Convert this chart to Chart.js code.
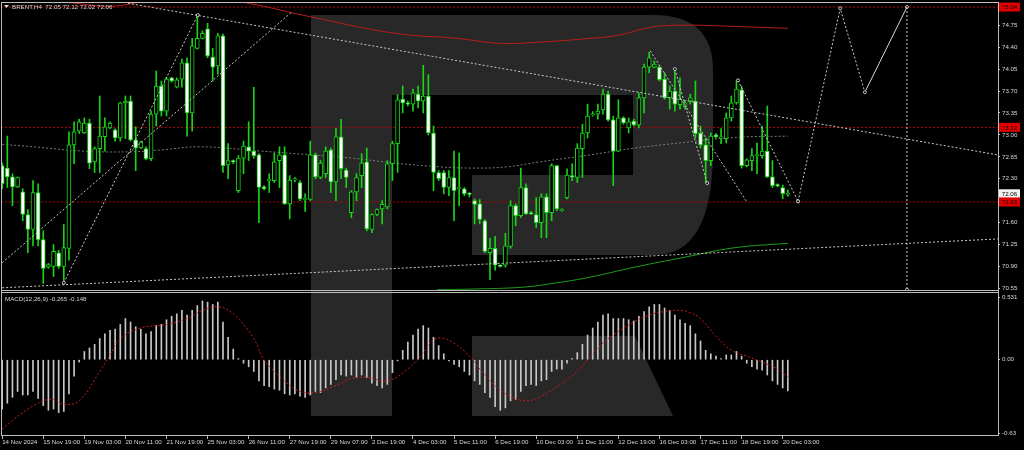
<!DOCTYPE html>
<html>
<head>
<meta charset="utf-8">
<title>BRENT H4</title>
<script src="https://cdn.jsdelivr.net/npm/chart.js@4.4.0/dist/chart.umd.min.js"></script>
<style>
    html, body { margin: 0; padding: 0; background: #000; }
    #wrap { width: 1024px; height: 450px; background: #000; }
    canvas { display: block; }
</style>
</head>
<body>
<div id="wrap"><canvas id="brentChart" width="1024" height="450"></canvas></div>
<script>
// BRENT, H4 candles, bar 0 = 14 Nov 2024
const candleOpen = [
    72.51, 72.47, 72.33, 72.17, 72.09, 71.73, 71.49, 72.08, 71.33, 70.89,
    70.90, 71.12, 70.90, 71.19, 72.84, 73.06, 73.03, 73.19, 72.57, 72.78,
    72.97, 73.11, 73.08, 72.95, 73.51, 73.54, 72.92, 72.79, 72.78, 72.62,
    73.33, 73.78, 73.38, 73.91, 73.76, 73.89, 74.15, 73.35, 74.38, 74.54,
    74.69, 74.24, 74.10, 74.58, 72.52, 72.59, 72.11, 72.63, 72.81, 72.74,
    72.68, 72.17, 72.27, 72.27, 72.59, 72.68, 71.90, 72.28, 72.24, 71.97,
    71.97, 72.68, 72.32, 72.38, 72.76, 72.25, 72.97, 72.44, 71.76, 72.09,
    72.35, 72.57, 71.49, 71.73, 71.82, 71.85, 72.54, 72.86, 73.57, 73.51,
    73.49, 73.65, 73.54, 73.62, 73.03, 72.40, 72.40, 72.16, 72.32, 72.14,
    72.14, 72.06, 71.95, 71.90, 71.63, 71.12, 71.19, 70.92, 70.92, 71.22,
    71.87, 71.71, 72.16, 71.76, 71.73, 71.60, 72.01, 71.76, 72.51, 71.79,
    72.00, 72.35, 72.32, 72.78, 73.03, 73.32, 73.33, 73.40, 73.65, 73.24,
    72.74, 73.27, 73.11, 73.22, 73.16, 73.59, 74.08, 74.08, 74.08, 73.89,
    73.59, 73.70, 73.48, 73.45, 73.54, 73.54, 73.03, 72.84, 72.59, 73.00,
    72.95, 72.94, 73.27, 73.51, 73.72, 72.51, 72.59, 72.67, 72.67, 72.74,
    72.33, 72.20, 72.16, 72.05
];
const candleHigh = [
    72.55, 72.98, 72.38, 72.33, 72.14, 71.81, 72.27, 72.22, 71.47, 70.95,
    71.25, 71.16, 71.57, 73.05, 73.21, 73.25, 73.27, 73.25, 72.81, 73.62,
    73.27, 73.21, 73.10, 73.52, 73.62, 73.62, 73.13, 72.90, 72.81, 73.38,
    74.02, 73.86, 73.92, 73.92, 73.91, 74.21, 74.23, 74.54, 74.89, 74.66,
    74.78, 74.38, 74.62, 74.61, 72.86, 72.60, 72.67, 72.90, 73.21, 73.76,
    72.70, 72.19, 72.38, 72.71, 72.81, 72.81, 72.35, 72.32, 72.27, 72.06,
    72.90, 72.71, 72.59, 72.81, 72.79, 73.10, 73.25, 72.47, 72.11, 72.38,
    72.70, 72.79, 71.74, 71.82, 71.95, 72.59, 72.90, 73.64, 73.78, 73.54,
    73.73, 73.78, 74.11, 73.96, 73.14, 72.43, 72.43, 72.43, 72.74, 72.71,
    72.16, 72.08, 71.98, 71.97, 71.65, 71.35, 71.38, 70.93, 71.43, 71.95,
    71.90, 72.47, 72.22, 71.78, 72.00, 72.06, 72.06, 72.54, 72.51, 71.82,
    72.46, 72.54, 72.86, 73.17, 73.49, 73.37, 73.49, 73.73, 73.70, 73.30,
    73.56, 73.29, 73.27, 73.25, 73.67, 74.13, 74.32, 74.18, 74.10, 73.99,
    73.78, 74.02, 73.91, 73.54, 73.65, 73.86, 73.14, 72.95, 73.03, 73.02,
    73.10, 73.35, 73.62, 73.86, 73.78, 72.62, 72.78, 72.87, 73.14, 73.46,
    72.59, 72.22, 72.20, 72.12
];
const candleLow = [
    72.14, 72.16, 71.87, 72.16, 71.63, 71.12, 71.23, 71.23, 70.63, 70.87,
    70.74, 70.87, 70.65, 71.00, 72.54, 73.02, 73.02, 72.46, 72.40, 72.40,
    72.74, 73.10, 72.90, 72.90, 72.94, 72.90, 72.43, 72.78, 72.60, 72.59,
    73.14, 73.30, 73.30, 73.84, 73.75, 73.76, 72.98, 73.06, 74.37, 74.53,
    74.23, 73.86, 73.97, 72.40, 72.30, 72.54, 72.08, 72.38, 72.59, 72.63,
    71.60, 72.12, 72.08, 72.24, 72.16, 71.89, 71.66, 72.25, 71.95, 71.78,
    71.95, 72.30, 72.30, 72.32, 72.08, 71.95, 72.30, 72.16, 71.68, 71.95,
    72.16, 71.47, 71.44, 71.71, 71.58, 71.82, 72.27, 72.40, 73.35, 73.46,
    73.38, 73.43, 73.35, 73.00, 72.11, 72.27, 72.06, 72.03, 71.63, 71.87,
    72.03, 72.01, 71.58, 71.58, 71.12, 70.69, 70.84, 70.89, 70.89, 71.19,
    71.55, 71.68, 71.73, 71.73, 71.52, 71.36, 71.36, 71.63, 71.79, 71.78,
    71.98, 72.27, 72.24, 72.32, 72.95, 73.30, 73.25, 73.33, 73.22, 72.19,
    72.73, 73.17, 73.03, 73.14, 73.11, 73.35, 73.99, 74.07, 73.86, 73.57,
    73.41, 73.38, 73.41, 73.41, 73.49, 72.95, 72.79, 72.24, 72.51, 72.95,
    72.86, 72.87, 73.22, 73.49, 72.47, 72.49, 72.43, 72.38, 72.63, 72.32,
    72.16, 72.17, 71.98, 72.02
];
const candleClose = [
    72.22, 72.33, 72.17, 72.32, 71.73, 71.49, 72.08, 71.33, 70.87, 70.93,
    71.14, 70.90, 71.20, 72.84, 73.05, 73.21, 73.19, 72.55, 72.78, 72.98,
    73.13, 73.19, 72.95, 73.51, 73.54, 72.92, 72.79, 72.89, 72.62, 73.33,
    73.78, 73.38, 73.89, 73.86, 73.88, 74.15, 73.35, 74.42, 74.54, 74.62,
    74.26, 74.08, 74.58, 72.51, 72.59, 72.57, 72.63, 72.82, 72.74, 72.67,
    72.16, 72.14, 72.28, 72.57, 72.68, 71.90, 72.28, 72.30, 71.98, 71.98,
    72.68, 72.33, 72.55, 72.74, 72.25, 72.97, 72.46, 72.32, 72.09, 72.32,
    72.55, 71.50, 71.73, 71.81, 71.89, 72.54, 72.86, 73.56, 73.51, 73.49,
    73.67, 73.54, 73.62, 73.03, 72.40, 72.30, 72.16, 72.32, 72.11, 72.16,
    72.06, 72.05, 71.89, 71.65, 71.14, 71.19, 70.92, 70.90, 71.23, 71.87,
    71.71, 72.16, 71.74, 71.74, 71.60, 72.01, 71.76, 72.51, 71.82, 71.81,
    72.36, 72.33, 72.79, 73.03, 73.30, 73.33, 73.38, 73.65, 73.24, 72.74,
    73.27, 73.19, 73.21, 73.16, 73.59, 74.08, 74.23, 74.13, 73.88, 73.59,
    73.70, 73.49, 73.57, 73.51, 73.59, 73.02, 72.84, 72.59, 72.98, 72.97,
    72.97, 73.27, 73.51, 73.73, 72.51, 72.60, 72.67, 72.68, 72.74, 72.33,
    72.19, 72.19, 72.06, 72.06
];

// MACD(12,26,9) main line (histogram) per bar
const macdMain = [
    -0.42, -0.37, -0.32, -0.27, -0.30, -0.30, -0.27, -0.33, -0.39, -0.43,
    -0.42, -0.45, -0.44, -0.29, -0.14, -0.02, 0.07, 0.10, 0.13, 0.18,
    0.22, 0.25, 0.26, 0.30, 0.35, 0.32, 0.28, 0.26, 0.22, 0.24,
    0.29, 0.30, 0.34, 0.37, 0.39, 0.42, 0.38, 0.42, 0.46, 0.50,
    0.49, 0.47, 0.49, 0.32, 0.19, 0.09, 0.01, -0.03, -0.06, -0.10,
    -0.18, -0.22, -0.23, -0.25, -0.26, -0.29, -0.30, -0.29, -0.31, -0.32,
    -0.30, -0.27, -0.28, -0.24, -0.21, -0.17, -0.13, -0.14, -0.13, -0.15,
    -0.13, -0.15, -0.20, -0.22, -0.24, -0.21, -0.11, -0.01, 0.08, 0.15,
    0.21, 0.26, 0.29, 0.27, 0.19, 0.12, 0.05, -0.01, -0.04, -0.06,
    -0.10, -0.13, -0.18, -0.21, -0.28, -0.32, -0.40, -0.43, -0.41, -0.35,
    -0.34, -0.27, -0.22, -0.21, -0.22, -0.18, -0.17, -0.10, -0.08, -0.08,
    -0.03, 0.01, 0.06, 0.13, 0.21, 0.27, 0.32, 0.38, 0.39, 0.35,
    0.35, 0.35, 0.34, 0.33, 0.37, 0.41, 0.45, 0.47, 0.47, 0.44,
    0.42, 0.38, 0.34, 0.31, 0.29, 0.22, 0.16, 0.08, 0.05, 0.03,
    0.01, 0.04, 0.04, 0.07, 0.03, -0.03, -0.06, -0.08, -0.09, -0.13,
    -0.18, -0.21, -0.24, -0.265
];
// signal line, read at these bars
const signalIdx = [0, 4, 8, 10, 12, 15, 19, 21, 23, 27, 32, 36, 39, 42, 45, 49, 51, 55, 58, 61,
    65, 68, 71, 75, 79, 82, 84, 86, 88, 91, 94, 98, 102, 105, 109, 112, 116, 119, 123, 126,
    129, 132, 134, 136, 139, 142, 145, 148, 151, 153];
const signalVal = [-0.59, -0.45, -0.35, -0.34, -0.38, -0.35, -0.10, 0.04, 0.18, 0.27, 0.30, 0.35, 0.42, 0.45, 0.39, 0.18, 0.00, -0.18, -0.27, -0.28,
    -0.22, -0.16, -0.15, -0.18, -0.08, 0.06, 0.17, 0.18, 0.14, 0.03, -0.13, -0.29, -0.35, -0.31, -0.20, -0.10, 0.10, 0.21, 0.32, 0.38,
    0.41, 0.42, 0.40, 0.35, 0.20, 0.08, 0.03, -0.02, -0.08, -0.148];

// moving averages on the price pane (sampled bars)
const redMaIdx = [0, 15.5, 21, 29, 37, 42.4, 48, 60.3, 76.5, 88.6, 97, 104.7, 114.5, 120, 126.5, 133, 142.7, 153];
const redMaVal = [75.22, 75.09, 75.05, 75.14, 75.18, 75.16, 75.10, 74.88, 74.62, 74.54, 74.46, 74.48, 74.54, 74.59, 74.72, 74.75, 74.73, 74.70];
const greenMaIdx = [84.7, 91.5, 101.4, 108, 114.5, 123.2, 133, 142.7, 153];
const greenMaVal = [70.53, 70.54, 70.57, 70.64, 70.73, 70.89, 71.05, 71.20, 71.27];
const grayMaIdx = [0, 6, 16, 25, 31, 38.5, 50.6, 60.3, 68, 76.5, 85.3, 91.7, 98.3, 104.7, 114.5, 123.2, 133, 142.7, 153];
const grayMaVal = [72.85, 72.81, 72.74, 72.73, 72.76, 72.81, 72.74, 72.68, 72.63, 72.55, 72.49, 72.47, 72.49, 72.57, 72.68, 72.79, 72.88, 72.96, 72.98];

// drawn objects: [bar, price] pairs
const resistLine = [[24.5, 75.10], [193.9, 72.68]];
const supportLine = [[0, 70.56], [193.9, 71.34]];
const channelLine = [[0, 70.96], [56.4, 74.96]];
const impulseLine = [[12, 70.64], [38.1, 74.91]];
const waveA = [[126.2, 74.34], [145, 71.93]];
const waveB = [[131, 74.05], [137.3, 72.23]];
const waveC = [[143.3, 73.87], [155, 71.94]];
const forecastDotted = [[155, 71.94], [163.2, 75.02], [168, 73.68]];
const forecastSolid = [[168, 73.68], [176.2, 75.04]];
const targetVertical = [[176.2, 75.04], [176.2, 70.53]];

const levelPrices = [75.04, 73.12, 71.93];
const bidPrice = 72.06;

// axis labels
const priceTicks = [74.75, 74.40, 74.05, 73.70, 73.35, 73.00, 72.65, 72.30, 71.60, 71.25, 70.90, 70.55];
const macdTicks = [0.531, 0, -0.63];
const macdTickLabels = ['0.531', '0.00', '-0.63'];
const timeLabels = ['14 Nov 2024', '15 Nov 19:00', '19 Nov 03:00', '20 Nov 11:00', '21 Nov 19:00', '25 Nov 03:00',
    '26 Nov 11:00', '27 Nov 19:00', '29 Nov 07:00', '2 Dec 19:00', '4 Dec 03:00', '5 Dec 11:00', '6 Dec 19:00',
    '10 Dec 03:00', '11 Dec 11:00', '12 Dec 19:00', '16 Dec 03:00', '17 Dec 11:00', '18 Dec 19:00', '20 Dec 03:00'];
const barsPerLabel = 8;

// look
const FONT = '"Liberation Sans", Arial, sans-serif';
const TXT = '#d8d8d8';
const FRAME = '#bdbdbd';
const CANDLE = '#19d219';
const NOTE = '#c8c8c8';
const X_MIN = -0.23;
const X_MAX = 193.93;

const barIdx = candleOpen.map((_, i) => i);
const pairs = list => list.map(p => ({ x: p[0], y: p[1] }));
const zipXY = (xs, ys) => xs.map((x, k) => ({ x: x, y: ys[k] }));

function noteLine(points, dashed, extra) {
    return Object.assign({
        type: 'line',
        data: pairs(points),
        borderColor: NOTE,
        borderWidth: 1,
        borderDash: dashed ? [2, 2] : [],
        pointRadius: 0,
        tension: 0,
        yAxisID: 'y',
        order: 1
    }, extra || {});
}

// no label overhang padding, the panes must sit exactly
function noPad(scale) {
    scale.paddingTop = 0;
    scale.paddingBottom = 0;
    scale.paddingLeft = 0;
    scale.paddingRight = 0;
}

const datasets = [];

// horizontal red levels
levelPrices.forEach(p => {
    datasets.push({
        type: 'line',
        data: [{ x: X_MIN, y: p }, { x: X_MAX, y: p }],
        borderColor: '#b40000',
        borderWidth: 1,
        borderDash: [2, 2],
        pointRadius: 0,
        yAxisID: 'y',
        order: 9
    });
});

// moving averages
datasets.push({
    type: 'line', data: zipXY(redMaIdx, redMaVal), borderColor: '#b81c1c', borderWidth: 1,
    pointRadius: 0, tension: 0.4, yAxisID: 'y', order: 5
});
datasets.push({
    type: 'line', data: zipXY(greenMaIdx, greenMaVal), borderColor: '#1e9e1e', borderWidth: 1,
    pointRadius: 0, tension: 0.4, yAxisID: 'y', order: 5
});
datasets.push({
    type: 'line', data: zipXY(grayMaIdx, grayMaVal), borderColor: '#7a7a7a', borderWidth: 1,
    borderDash: [2, 2], pointRadius: 0, tension: 0.4, yAxisID: 'y', order: 5
});

// candles: wick then body
datasets.push({
    type: 'bar',
    data: barIdx.map(i => ({ x: i, y: [candleLow[i], candleHigh[i]] })),
    backgroundColor: CANDLE,
    barThickness: 1,
    grouped: false,
    minBarLength: 1,
    yAxisID: 'y',
    order: 4
});
datasets.push({
    type: 'bar',
    data: barIdx.map(i => ({ x: i, y: [candleOpen[i], candleClose[i]] })),
    backgroundColor: barIdx.map(i => candleClose[i] < candleOpen[i] ? '#ffffff' : '#000000'),
    borderColor: CANDLE,
    borderWidth: 1,
    borderSkipped: false,
    barThickness: 4,
    grouped: false,
    minBarLength: 1,
    yAxisID: 'y',
    order: 3
});

// trend lines and wave marks
const markOpts = { pointRadius: 1.5, pointBorderColor: NOTE, pointBackgroundColor: '#000' };
datasets.push(noteLine(resistLine, true));
datasets.push(noteLine(supportLine, true));
datasets.push(noteLine(channelLine, true));
datasets.push(noteLine(impulseLine, true, markOpts));
datasets.push(noteLine(waveA, true));
datasets.push(noteLine(waveB, true, markOpts));
datasets.push(noteLine(waveC, true, markOpts));
datasets.push(noteLine(forecastDotted, true, markOpts));
datasets.push(noteLine(forecastSolid, false, { borderColor: '#d8d8d8' }));
datasets.push(noteLine(targetVertical, true, markOpts));

// MACD pane
datasets.push({
    type: 'bar',
    data: barIdx.map(i => ({ x: i, y: macdMain[i] })),
    backgroundColor: '#c8c8c8',
    barThickness: 1,
    grouped: false,
    yAxisID: 'y2',
    order: 3
});
datasets.push({
    type: 'line',
    data: zipXY(signalIdx, signalVal),
    borderColor: '#d01818',
    borderWidth: 1,
    borderDash: [2, 2],
    pointRadius: 0,
    tension: 0.4,
    yAxisID: 'y2',
    order: 1
});

// logo, panel frames, captions and price boxes
const chartDecor = {
    id: 'chartDecor',
    beforeDatasetsDraw(chart) {
        const ctx = chart.ctx;
        ctx.save();
        ctx.fillStyle = '#282828';
        ctx.beginPath();
        ctx.moveTo(311, 15);
        ctx.lineTo(653, 15);
        ctx.quadraticCurveTo(713, 15, 713, 70);
        ctx.lineTo(713, 150);
        ctx.quadraticCurveTo(713, 255, 655, 255);
        ctx.lineTo(472, 255);
        ctx.lineTo(472, 175);
        ctx.lineTo(633, 175);
        ctx.lineTo(633, 95);
        ctx.lineTo(392, 95);
        ctx.lineTo(392, 416);
        ctx.lineTo(311, 416);
        ctx.closePath();
        ctx.moveTo(472, 336);
        ctx.lineTo(635, 336);
        ctx.lineTo(673, 416);
        ctx.lineTo(472, 416);
        ctx.closePath();
        ctx.fill();
        ctx.restore();
    },
    afterDraw(chart) {
        const ctx = chart.ctx;
        const area = chart.chartArea;
        const yP = chart.scales.y;
        const yM = chart.scales.y2;
        ctx.save();

        // frames
        ctx.strokeStyle = FRAME;
        ctx.lineWidth = 1;
        ctx.beginPath();
        ctx.moveTo(area.left + 0.5, yP.top + 0.5);
        ctx.lineTo(area.right + 0.5, yP.top + 0.5);
        ctx.moveTo(area.left, yP.bottom + 0.5);
        ctx.lineTo(area.right + 0.5, yP.bottom + 0.5);
        ctx.moveTo(area.left, yM.top + 2.5);
        ctx.lineTo(area.right + 0.5, yM.top + 2.5);
        ctx.moveTo(area.left, area.bottom - 0.5);
        ctx.lineTo(area.right + 0.5, area.bottom - 0.5);
        ctx.moveTo(area.left + 0.5, yP.top);
        ctx.lineTo(area.left + 0.5, area.bottom);
        ctx.moveTo(area.right + 0.5, yP.top);
        ctx.lineTo(area.right + 0.5, area.bottom);
        ctx.stroke();

        // captions
        ctx.fillStyle = TXT;
        ctx.font = '6.2px ' + FONT;
        ctx.textBaseline = 'middle';
        ctx.textAlign = 'left';
        ctx.beginPath();
        ctx.moveTo(4, 5);
        ctx.lineTo(9, 5);
        ctx.lineTo(6.5, 8);
        ctx.closePath();
        ctx.fill();
        ctx.fillText('BRENT,H4  72.05 72.12 72.02 72.06', 12, 7);
        ctx.fillText('MACD(12,26,9) -0.265 -0.148', 5, yM.top + 9);

        // price boxes on the axis
        const boxX = area.right + 1;
        const boxW = 21;
        const drawBox = (value, bg, fg) => {
            const py = Math.max(yP.getPixelForValue(value), yP.top + 3.5);
            ctx.fillStyle = bg;
            ctx.fillRect(boxX, py - 4.5, boxW, 9);
            ctx.fillStyle = fg;
            ctx.textAlign = 'center';
            ctx.fillText(value.toFixed(2), boxX + boxW / 2, py + 0.5);
        };
        drawBox(bidPrice, '#f2f2f2', '#000');
        levelPrices.forEach(p => drawBox(p, '#e00000', '#1a0000'));
        ctx.restore();
    }
};

const ctx = document.getElementById('brentChart').getContext('2d');

new Chart(ctx, {
    type: 'bar',
    data: { datasets: datasets },
    options: {
        responsive: false,
        animation: false,
        devicePixelRatio: 1,
        layout: { padding: { left: 1, top: 2, right: 0, bottom: 0 }, autoPadding: false },
        plugins: {
            legend: { display: false },
            tooltip: { enabled: false }
        },
        scales: {
            x: {
                type: 'linear',
                min: X_MIN,
                max: X_MAX,
                offset: false,
                border: { display: false },
                grid: { drawOnChartArea: false, drawTicks: true, tickLength: 3, color: FRAME, offset: false },
                ticks: {
                    autoSkip: false,
                    maxRotation: 0,
                    align: 'start',
                    padding: 0,
                    color: TXT,
                    font: { family: FONT, size: 6.2 },
                    callback: (value, index) => timeLabels[index]
                },
                afterBuildTicks: scale => {
                    scale.ticks = timeLabels.map((_, k) => ({ value: k * barsPerLabel }));
                },
                afterFit: scale => { scale.height = 14; noPad(scale); }
            },
            y: {
                position: 'right',
                stack: 'panes',
                stackWeight: 288,
                min: 70.525,
                max: 75.12,
                border: { display: false },
                grid: { drawOnChartArea: false, drawTicks: true, tickLength: 2, color: FRAME },
                ticks: {
                    padding: 2,
                    color: TXT,
                    font: { family: FONT, size: 6.2 },
                    callback: value => value.toFixed(2)
                },
                afterBuildTicks: scale => {
                    scale.ticks = priceTicks.map(v => ({ value: v }));
                },
                afterFit: scale => { scale.width = 26; noPad(scale); }
            },
            y2: {
                position: 'right',
                stack: 'panes',
                stackWeight: 146,
                min: -0.649,
                max: 0.593,
                border: { display: false },
                grid: { drawOnChartArea: false, drawTicks: true, tickLength: 2, color: FRAME },
                ticks: {
                    padding: 2,
                    color: TXT,
                    font: { family: FONT, size: 6.2 },
                    callback: (value, index) => macdTickLabels[index]
                },
                afterBuildTicks: scale => {
                    scale.ticks = macdTicks.map(v => ({ value: v }));
                },
                afterFit: scale => { scale.width = 26; noPad(scale); }
            }
        }
    },
    plugins: [chartDecor]
});
</script>
</body>
</html>
